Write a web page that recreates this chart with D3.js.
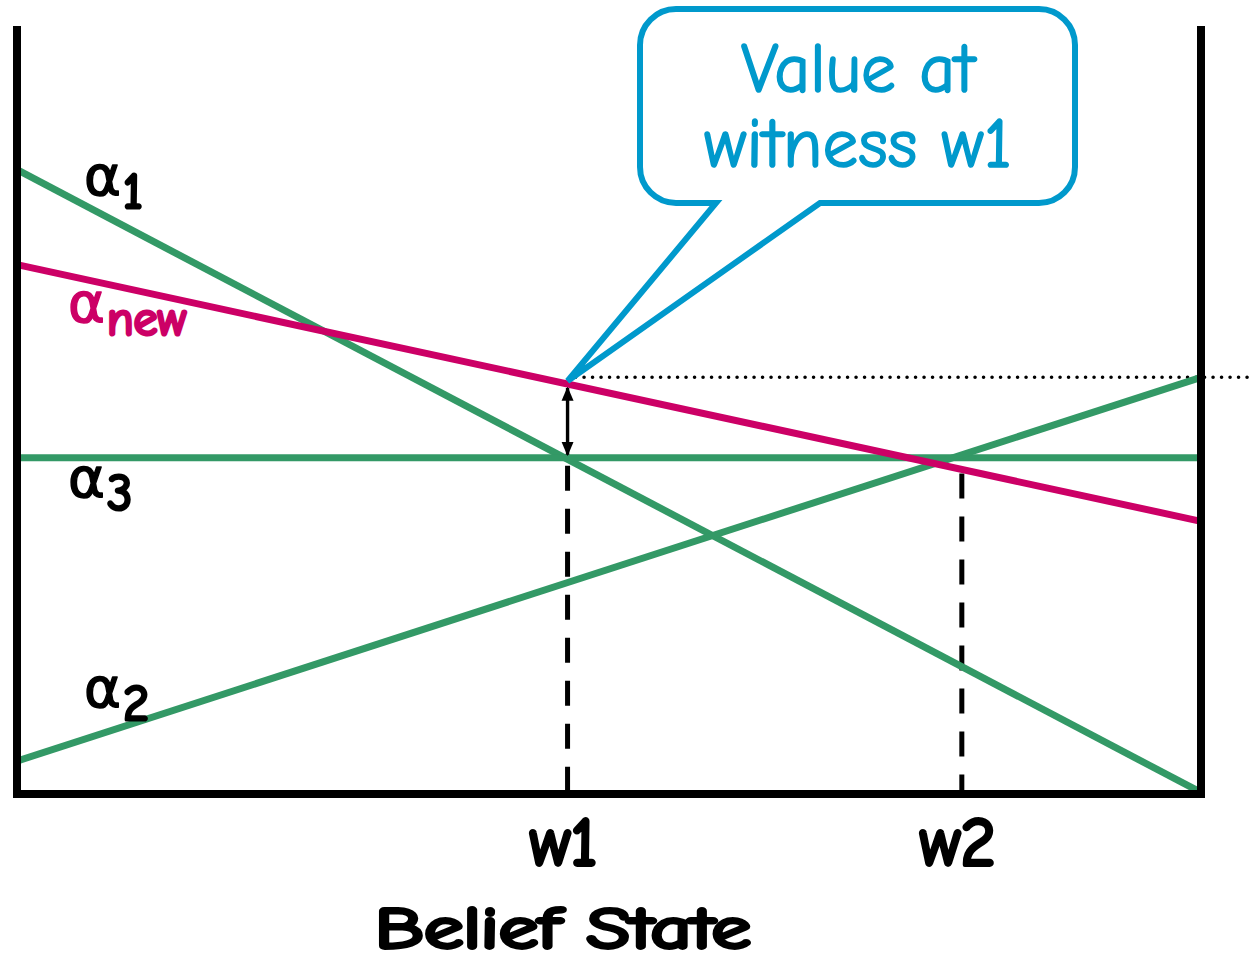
<!DOCTYPE html>
<html>
<head>
<meta charset="utf-8">
<script src="https://cdn.jsdelivr.net/npm/d3@7"></script>
<style>
  body { margin: 0; background: #fff; }
  svg text { font-family: "Comic Sans MS", "Comic Neue", "DejaVu Sans", sans-serif; }
</style>
</head>
<body>
<div id="chart"></div>
<script>
// alpha vectors: value at belief 0 and belief 1
var alphaNames = ["a1", "anew", "a3", "a2"];
var alphaLeft = [81.5, 69.1, 43.9, 4.3];
var alphaRight = [0.2, 35.6, 43.9, 54.4];
var alphaColors = ["#339966", "#cc0066", "#339966", "#339966"];

// witness points on the belief axis
var witnessNames = ["w1", "w2"];
var witnessBelief = [0.465, 0.798];

var dottedLevel = 54.4;

// dimensions
var width = 1255, height = 965;

var svg = d3.select("#chart")
  .append("svg")
  .attr("width", width)
  .attr("height", height);

var x = d3.scaleLinear().domain([0, 1]).range([17, 1201]);
var y = d3.scaleLinear().domain([0, 100]).range([794, 28]);

function alphaAt(i, b) { return alphaLeft[i] + (alphaRight[i] - alphaLeft[i]) * b; }

var green = "#339966", magenta = "#cc0066", blue = "#0099cc";

// fake a heavier weight with a stroke of the same colour
function heavy(sel, col, w) {
  sel.attr("fill", col).attr("stroke", col)
    .attr("stroke-width", w).attr("stroke-linejoin", "round")
    .attr("paint-order", "stroke");
}

// arrow markers
var defs = svg.append("defs");
["start", "end"].forEach(function (k) {
  defs.append("marker")
    .attr("id", "arr-" + k)
    .attr("viewBox", "0 0 10 10")
    .attr("refX", 9).attr("refY", 5)
    .attr("markerWidth", 4.2).attr("markerHeight", 4.2)
    .attr("orient", "auto-start-reverse")
    .append("path").attr("d", "M0,0.8 L10,5 L0,9.2 z").attr("fill", "#000");
});

// dashed witness drops
svg.selectAll(".drop")
  .data(witnessBelief)
  .enter().append("line")
  .attr("x1", function (d) { return x(d); })
  .attr("x2", function (d) { return x(d); })
  .attr("y1", function (d, i) { return i == 0 ? y(alphaAt(2, d)) + 8 : y(alphaAt(1, d)) + 4; })
  .attr("y2", y(0))
  .attr("stroke", "#000")
  .attr("stroke-width", 5)
  .attr("stroke-dasharray", "25,18");

// dotted value level
svg.append("line")
  .attr("x1", x(witnessBelief[0]) + 8).attr("x2", width)
  .attr("y1", y(dottedLevel)).attr("y2", y(dottedLevel))
  .attr("stroke", "#000")
  .attr("stroke-width", 3.6)
  .attr("stroke-linecap", "round")
  .attr("stroke-dasharray", "0,8.5");

// alpha lines (green first, then magenta on top)
var order = [0, 2, 3, 1];
svg.selectAll(".alpha")
  .data(order)
  .enter().append("line")
  .attr("x1", x(0)).attr("x2", x(1))
  .attr("y1", function (i) { return y(alphaLeft[i]); })
  .attr("y2", function (i) { return y(alphaRight[i]); })
  .attr("stroke", function (i) { return alphaColors[i]; })
  .attr("stroke-width", 7);

// double arrow at w1
var bw = witnessBelief[0];
svg.append("line")
  .attr("x1", x(bw)).attr("x2", x(bw))
  .attr("y1", y(alphaAt(1, bw)) + 4)
  .attr("y2", y(alphaAt(2, bw)) - 3)
  .attr("stroke", "#000")
  .attr("stroke-width", 3.4)
  .attr("marker-start", "url(#arr-start)")
  .attr("marker-end", "url(#arr-end)");

// frame: left, right, bottom
svg.append("path")
  .attr("d", "M" + x(0) + "," + 26 + " V" + y(0) + " H" + x(1) + " V" + 26)
  .attr("fill", "none")
  .attr("stroke", "#000")
  .attr("stroke-width", 8)
  .attr("stroke-linejoin", "miter");

// alpha labels
var labelText = ["1", "new", "3", "2"];
var labelPos = [[84, 195], [68, 322], [68, 497], [84, 707]];
labelPos.forEach(function (p, i) {
  var t = svg.append("text")
    .attr("x", p[0]).attr("y", p[1])
    .attr("font-size", 56);
  heavy(t, i == 1 ? magenta : "#000", 1.5);
  t.append("tspan").text("α");
  t.append("tspan").attr("dx", 2).attr("dy", 13)
    .attr("font-size", i == 1 ? 48 : 50)
    .attr("stroke-width", 3.2)
    .text(labelText[i]);
});

// witness tick labels
var wl = svg.selectAll(".wlab")
  .data(witnessNames)
  .enter().append("text")
  .attr("x", function (d, i) { return x(witnessBelief[i]) - 4; })
  .attr("y", 865)
  .attr("text-anchor", "middle")
  .attr("font-size", 68)
  .text(function (d) { return d; });
heavy(wl, "#000", 3.8);

// axis title
var tt = svg.append("text")
  .attr("x", 563).attr("y", 948)
  .attr("text-anchor", "middle")
  .attr("font-size", 58)
  .attr("textLength", 376)
  .attr("lengthAdjust", "spacingAndGlyphs")
  .text("Belief State");
heavy(tt, "#000", 3.8);

// callout
var tipX = x(bw), tipY = y(alphaAt(1, bw)) - 3;
var bx0 = 640, bx1 = 1075, by0 = 9, by1 = 203, r = 36;
var callout = "M" + (bx0 + r) + "," + by0 +
  " H" + (bx1 - r) + " A" + r + "," + r + " 0 0 1 " + bx1 + "," + (by0 + r) +
  " V" + (by1 - r) + " A" + r + "," + r + " 0 0 1 " + (bx1 - r) + "," + by1 +
  " H" + 820 + " L" + tipX + "," + tipY + " L" + 716 + "," + by1 +
  " H" + (bx0 + r) + " A" + r + "," + r + " 0 0 1 " + bx0 + "," + (by1 - r) +
  " V" + (by0 + r) + " A" + r + "," + r + " 0 0 1 " + (bx0 + r) + "," + by0 + " Z";
svg.append("path")
  .attr("d", callout)
  .attr("fill", "#fff")
  .attr("stroke", blue)
  .attr("stroke-width", 6)
  .attr("stroke-linejoin", "miter");

var calloutLines = ["Value at", "witness w1"];
var calloutWidths = [234, 308];
var cl = svg.selectAll(".cl")
  .data(calloutLines)
  .enter().append("text")
  .attr("x", 858)
  .attr("y", function (d, i) { return 92 + i * 75; })
  .attr("text-anchor", "middle")
  .attr("font-size", 70)
  .attr("textLength", function (d, i) { return calloutWidths[i]; })
  .attr("lengthAdjust", "spacingAndGlyphs")
  .text(function (d) { return d; });
heavy(cl, blue, 1.6);
</script>
</body>
</html>
